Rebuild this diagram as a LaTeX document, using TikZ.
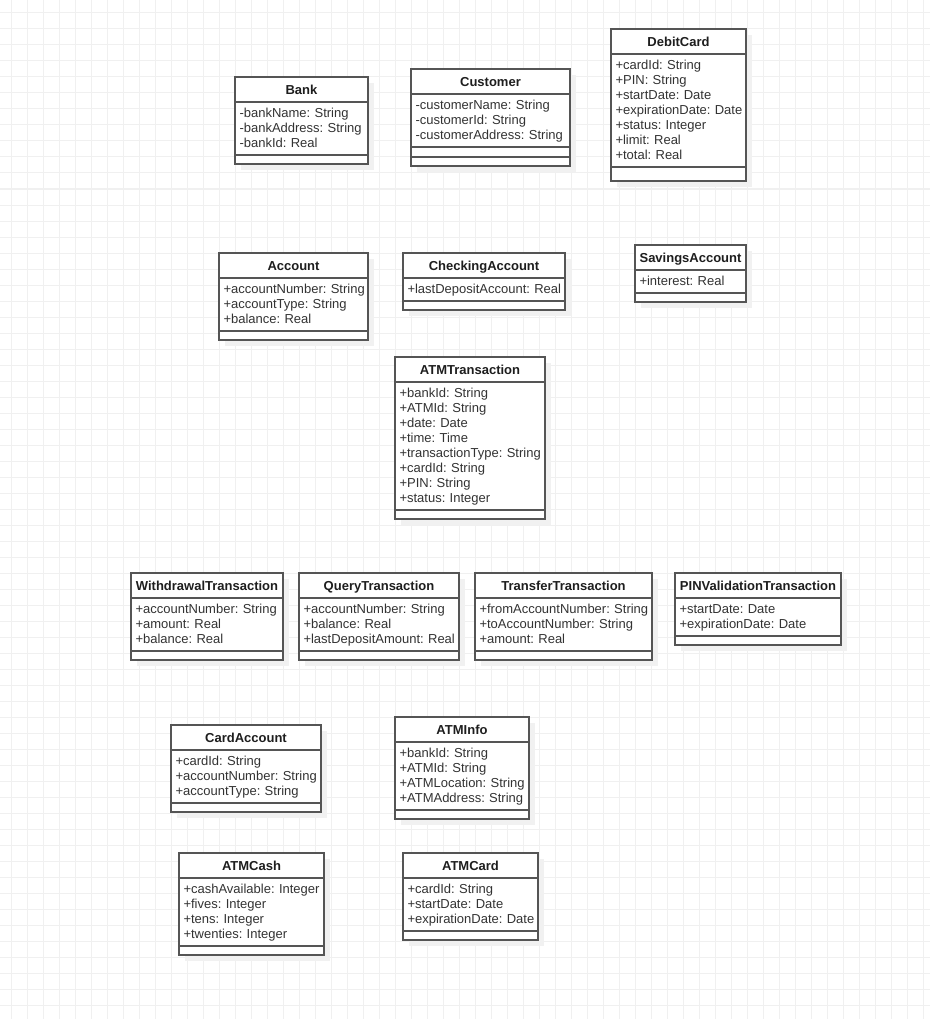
\documentclass[tikz,border=0pt]{standalone}
\usepackage{fontspec}
\setmainfont{Liberation Sans}
\usepackage{tikz}
\usetikzlibrary{positioning, shadows}
\definecolor{FrameInk}{HTML}{555555}
\definecolor{TextInk}{HTML}{333333}
\definecolor{TitleInk}{HTML}{1E1E1E}
\definecolor{GridInk}{HTML}{F0F0F0}
\definecolor{ShadeInk}{HTML}{F1F1F1}

\begin{document}
\begin{tikzpicture}[
    x=1pt, y=-1pt,
    font=\fontsize{13}{15}\selectfont,
    gridline/.style={draw=GridInk, line width=1pt},
    part/.style={
      draw=FrameInk,
      line width=1.2pt,
      fill=white,
      anchor=north west,
      inner sep=0pt,
      outer sep=0pt,
      drop shadow={shadow xshift=6pt, shadow yshift=-6pt, fill=ShadeInk, opacity=1},
    },
    clsname/.style={
      part,
      minimum height=25pt,
      text height=12.5pt,
      text depth=2.5pt,
      text=TitleInk,
      font=\fontsize{13}{15}\selectfont\bfseries,
    },
    clsattr/.style={
      part,
      inner xsep=4.5pt,
      inner ysep=4pt,
      align=left,
      text=TextInk,
      execute at begin node={\hyphenpenalty10000\relax\rule{0pt}{11.5pt}},
      execute at end node={\rule[-3.5pt]{0pt}{3.5pt}},
    },
    clsops/.style={part, minimum height=#1},
    clsops/.default=9pt,
  ]
    % canvas and grid
    \fill[white] (0,0) rectangle (930,1019);
    \useasboundingbox (0,0) rectangle (930,1019);
    \foreach \gx in {11,27,...,923} \draw[gridline] (\gx,0) -- (\gx,1019);
    \foreach \gy in {13,29,...,1005} \draw[gridline] (0,\gy) -- (930,\gy);

    % top row
    \node[clsname, minimum width=133pt] (bank) at (235,77) {Bank};
    \node[clsattr, text width=124pt, below right=0pt and 0pt of bank.south west] (bank-attr) {-bankName:~String\\-bankAddress:~String\\-bankId:~Real};
    \node[clsops, minimum width=133pt, below right=0pt and 0pt of bank-attr.south west] (bank-ops) {};

    \node[clsname, minimum width=159pt] (customer) at (411,69) {Customer};
    \node[clsattr, text width=150pt, below right=0pt and 0pt of customer.south west] (customer-attr) {-customerName:~String\\-customerId:~String\\-customerAddress:~String};
    \node[clsops=10pt, minimum width=159pt, below right=0pt and 0pt of customer-attr.south west] (customer-ops) {};
    \node[clsops, minimum width=159pt, below right=0pt and 0pt of customer-ops.south west] (customer-more) {};

    \node[clsname, minimum width=135pt] (debitcard) at (611,29) {DebitCard};
    \node[clsattr, text width=126pt, below right=0pt and 0pt of debitcard.south west] (debitcard-attr) {+cardId:~String\\+PIN:~String\\+startDate:~Date\\+expirationDate:~Date\\+status:~Integer\\+limit:~Real\\+total:~Real};
    \node[clsops=14pt, minimum width=135pt, below right=0pt and 0pt of debitcard-attr.south west] (debitcard-ops) {};

    % accounts
    \node[clsname, minimum width=149pt] (account) at (219,253) {Account};
    \node[clsattr, text width=140pt, below right=0pt and 0pt of account.south west] (account-attr) {+accountNumber:~String\\+accountType:~String\\+balance:~Real};
    \node[clsops, minimum width=149pt, below right=0pt and 0pt of account-attr.south west] (account-ops) {};

    \node[clsname, minimum width=162pt] (checking) at (403,253) {CheckingAccount};
    \node[clsattr, text width=153pt, below right=0pt and 0pt of checking.south west] (checking-attr) {+lastDepositAccount:~Real};
    \node[clsops, minimum width=162pt, below right=0pt and 0pt of checking-attr.south west] (checking-ops) {};

    \node[clsname, minimum width=111pt] (savings) at (635,245) {SavingsAccount};
    \node[clsattr, text width=102pt, below right=0pt and 0pt of savings.south west] (savings-attr) {+interest:~Real};
    \node[clsops, minimum width=111pt, below right=0pt and 0pt of savings-attr.south west] (savings-ops) {};

    % transaction base
    \node[clsname, minimum width=150pt] (atmtrans) at (395,357) {ATMTransaction};
    \node[clsattr, text width=141pt, below right=0pt and 0pt of atmtrans.south west] (atmtrans-attr) {+bankId:~String\\+ATMId:~String\\+date:~Date\\+time:~Time\\+transactionType:~String\\+cardId:~String\\+PIN:~String\\+status:~Integer};
    \node[clsops, minimum width=150pt, below right=0pt and 0pt of atmtrans-attr.south west] (atmtrans-ops) {};

    % transaction kinds
    \node[clsname, minimum width=152pt] (withdrawal) at (131,573) {WithdrawalTransaction};
    \node[clsattr, text width=143pt, below right=0pt and 0pt of withdrawal.south west] (withdrawal-attr) {+accountNumber:~String\\+amount:~Real\\+balance:~Real};
    \node[clsops, minimum width=152pt, below right=0pt and 0pt of withdrawal-attr.south west] (withdrawal-ops) {};

    \node[clsname, minimum width=160pt] (query) at (299,573) {QueryTransaction};
    \node[clsattr, text width=151pt, below right=0pt and 0pt of query.south west] (query-attr) {+accountNumber:~String\\+balance:~Real\\+lastDepositAmount:~Real};
    \node[clsops, minimum width=160pt, below right=0pt and 0pt of query-attr.south west] (query-ops) {};

    \node[clsname, minimum width=177pt] (transfer) at (475,573) {TransferTransaction};
    \node[clsattr, text width=168pt, below right=0pt and 0pt of transfer.south west] (transfer-attr) {+fromAccountNumber:~String\\+toAccountNumber:~String\\+amount:~Real};
    \node[clsops, minimum width=177pt, below right=0pt and 0pt of transfer-attr.south west] (transfer-ops) {};

    \node[clsname, minimum width=166pt] (pinvalid) at (675,573) {PINValidationTransaction};
    \node[clsattr, text width=157pt, below right=0pt and 0pt of pinvalid.south west] (pinvalid-attr) {+startDate:~Date\\+expirationDate:~Date};
    \node[clsops, minimum width=166pt, below right=0pt and 0pt of pinvalid-attr.south west] (pinvalid-ops) {};

    % card and atm
    \node[clsname, minimum width=150pt] (cardacct) at (171,725) {CardAccount};
    \node[clsattr, text width=141pt, below right=0pt and 0pt of cardacct.south west] (cardacct-attr) {+cardId:~String\\+accountNumber:~String\\+accountType:~String};
    \node[clsops, minimum width=150pt, below right=0pt and 0pt of cardacct-attr.south west] (cardacct-ops) {};

    \node[clsname, minimum width=134pt] (atminfo) at (395,717) {ATMInfo};
    \node[clsattr, text width=125pt, below right=0pt and 0pt of atminfo.south west] (atminfo-attr) {+bankId:~String\\+ATMId:~String\\+ATMLocation:~String\\+ATMAddress:~String};
    \node[clsops, minimum width=134pt, below right=0pt and 0pt of atminfo-attr.south west] (atminfo-ops) {};

    \node[clsname, minimum width=145pt] (atmcash) at (179,853) {ATMCash};
    \node[clsattr, text width=136pt, below right=0pt and 0pt of atmcash.south west] (atmcash-attr) {+cashAvailable:~Integer\\+fives:~Integer\\+tens:~Integer\\+twenties:~Integer};
    \node[clsops, minimum width=145pt, below right=0pt and 0pt of atmcash-attr.south west] (atmcash-ops) {};

    \node[clsname, minimum width=135pt] (atmcard) at (403,853) {ATMCard};
    \node[clsattr, text width=126pt, below right=0pt and 0pt of atmcard.south west] (atmcard-attr) {+cardId:~String\\+startDate:~Date\\+expirationDate:~Date};
    \node[clsops, minimum width=135pt, below right=0pt and 0pt of atmcard-attr.south west] (atmcard-ops) {};
\end{tikzpicture}
\end{document}
